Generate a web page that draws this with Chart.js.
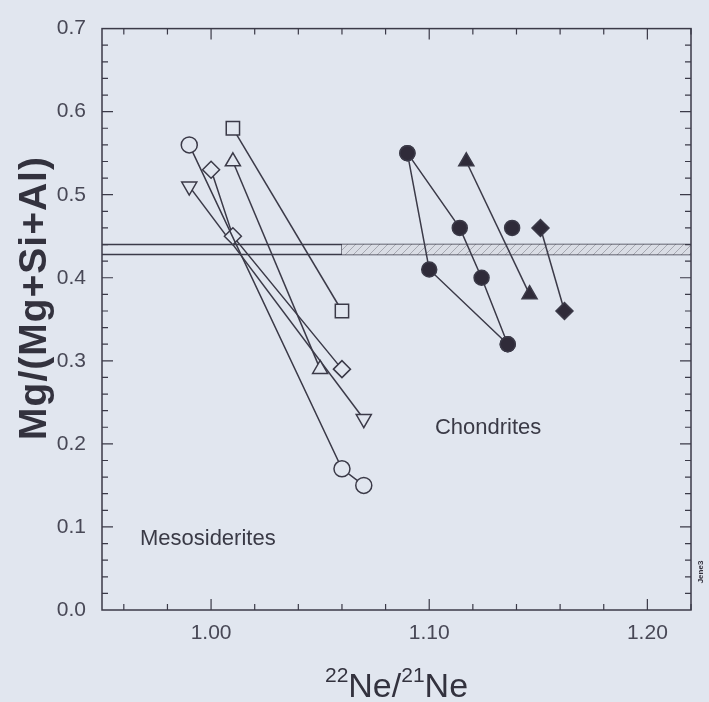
<!DOCTYPE html>
<html>
<head>
<meta charset="utf-8">
<script src="https://cdn.jsdelivr.net/npm/chart.js@4.4.0/dist/chart.umd.min.js"></script>
<style>
  html, body { margin: 0; padding: 0; background: #e1e6ef; }
</style>
</head>
<body>
<canvas id="myChart" width="709" height="702"></canvas>
<script>
// axis ticks
const xTickLabels = [1.00, 1.10, 1.20];
const yTickLabels = [0.0, 0.1, 0.2, 0.3, 0.4, 0.5, 0.6, 0.7];

// Mesosiderites (open symbols), [x = 22Ne/21Ne, y = Mg/(Mg+Si+Al)]
const mesoCircle = [[0.99, 0.56], [1.06, 0.17], [1.07, 0.15]];
const mesoSquare = [[1.01, 0.58], [1.06, 0.36]];
const mesoTriUp = [[1.01, 0.54], [1.05, 0.29]];
const mesoDiamond = [[1.00, 0.53], [1.01, 0.45], [1.06, 0.29]];
const mesoTriDown = [[0.99, 0.51], [1.07, 0.23]];

// Chondrites (filled symbols)
const chonCircleA = [[1.09, 0.55], [1.114, 0.46], [1.124, 0.40], [1.136, 0.32]];
const chonCircleB = [[1.09, 0.55], [1.10, 0.41], [1.136, 0.32]];
const chonCircleC = [[1.138, 0.46]];
const chonTriangle = [[1.117, 0.54], [1.146, 0.38]];
const chonDiamond = [[1.151, 0.46], [1.162, 0.36]];

// horizontal band
const bandLow = 0.428;
const bandHigh = 0.44;
const bandShadeFrom = 1.06;

// region labels
const regionLabels = [
  { text: "Mesosiderites", x: 0.9985, y: 0.085 },
  { text: "Chondrites", x: 1.127, y: 0.219 },
];

const INK = "#3b3a48";
const BG = "#e1e6ef";
const FONT = "'Liberation Sans', Arial, sans-serif";

function pts(arr) {
  return arr.map(function (p) { return { x: p[0], y: p[1] }; });
}

function series(arr, style, filled, radius, rotation) {
  return {
    data: pts(arr),
    showLine: true,
    borderColor: INK,
    borderWidth: 1.5,
    pointStyle: style,
    pointRotation: rotation || 0,
    pointRadius: radius,
    pointBorderWidth: 1.5,
    pointBorderColor: INK,
    pointBackgroundColor: filled ? "#2f2b39" : BG,
  };
}

// light hatch for the shaded part of the band
function hatch() {
  const c = document.createElement("canvas");
  c.width = 8; c.height = 8;
  const g = c.getContext("2d");
  g.fillStyle = "#dadde5";
  g.fillRect(0, 0, 8, 8);
  g.strokeStyle = "#a6a8b1";
  g.lineWidth = 1;
  g.beginPath();
  g.moveTo(0, 8); g.lineTo(8, 0);
  g.stroke();
  return g.createPattern(c, "repeat");
}

const framePlugin = {
  id: "frame",
  afterDatasetsDraw(chart) {
    const ctx = chart.ctx;
    const a = chart.chartArea;
    const xs = chart.scales.x, ys = chart.scales.y;
    ctx.save();
    ctx.strokeStyle = INK;
    ctx.lineWidth = 1.5;
    ctx.strokeRect(a.left, a.top, a.right - a.left, a.bottom - a.top);

    // inward ticks on all four sides, minor every 0.02
    ctx.lineWidth = 1.2;
    ctx.beginPath();
    for (let i = 0; i <= 13; i++) {
      const v = 0.96 + i * 0.02;
      const major = Math.abs(v * 10 - Math.round(v * 10)) < 1e-6;
      const len = major ? 11 : 6;
      const px = xs.getPixelForValue(v);
      ctx.moveTo(px, a.bottom); ctx.lineTo(px, a.bottom - len);
      ctx.moveTo(px, a.top); ctx.lineTo(px, a.top + len);
    }
    for (let i = 1; i < 35; i++) {
      const v = i * 0.02;
      const major = i % 5 === 0;
      const len = major ? 11 : 6;
      const py = ys.getPixelForValue(v);
      ctx.moveTo(a.left, py); ctx.lineTo(a.left + len, py);
      ctx.moveTo(a.right, py); ctx.lineTo(a.right - len, py);
    }
    ctx.stroke();

    // region labels
    ctx.fillStyle = "#3a3a46";
    ctx.font = "22px " + FONT;
    ctx.textAlign = "center";
    ctx.textBaseline = "middle";
    regionLabels.forEach(function (l) {
      ctx.fillText(l.text, xs.getPixelForValue(l.x), ys.getPixelForValue(l.y));
    });

    // y axis title
    ctx.save();
    ctx.translate(35, 298);
    ctx.rotate(-Math.PI / 2);
    ctx.font = "bold 39px " + FONT;
    ctx.letterSpacing = "1px";
    ctx.fillStyle = "#33323e";
    ctx.fillText("Mg/(Mg+Si+Al)", 0, 0);
    ctx.restore();

    // x axis title with mass numbers
    ctx.fillStyle = "#33323e";
    ctx.textBaseline = "alphabetic";
    ctx.textAlign = "left";
    const parts = [["22", true], ["Ne/", false], ["21", true], ["Ne", false]];
    let w = 0;
    parts.forEach(function (p) {
      ctx.font = (p[1] ? "21px " : "34px ") + FONT;
      w += ctx.measureText(p[0]).width;
    });
    let x = (a.left + a.right) / 2 - w / 2;
    parts.forEach(function (p) {
      ctx.font = (p[1] ? "21px " : "34px ") + FONT;
      ctx.fillText(p[0], x, p[1] ? 682 : 697);
      x += ctx.measureText(p[0]).width;
    });

    // small note at the right edge
    ctx.save();
    ctx.translate(701, 572);
    ctx.rotate(-Math.PI / 2);
    ctx.font = "bold 8px " + FONT;
    ctx.textAlign = "center";
    ctx.textBaseline = "middle";
    ctx.fillText("Jene3", 0, 0);
    ctx.restore();

    ctx.restore();
  },
};

document.addEventListener("DOMContentLoaded", function () {
  const ctx = document.getElementById("myChart");
  new Chart(ctx, {
    type: "scatter",
    data: {
      datasets: [
        series(mesoCircle, "circle", false, 8),
        series(mesoSquare, "rect", false, 9.4),
        series(mesoTriUp, "triangle", false, 8.7),
        series(mesoDiamond, "rectRot", false, 8.5),
        series(mesoTriDown, "triangle", false, 8.7, 180),
        series(chonCircleA, "circle", true, 7.5),
        series(chonCircleB, "circle", true, 7.5),
        series(chonCircleC, "circle", true, 7.5),
        series(chonTriangle, "triangle", true, 8.7),
        series(chonDiamond, "rectRot", true, 8.5),
        {
          // shaded part of the band
          data: [{ x: bandShadeFrom, y: bandHigh }, { x: 1.22, y: bandHigh }],
          showLine: true,
          borderWidth: 0,
          pointRadius: 0,
          fill: { value: bandLow },
          backgroundColor: hatch(),
        },
        {
          data: [{ x: bandShadeFrom, y: bandLow }, { x: bandShadeFrom, y: bandHigh }],
          showLine: true, borderColor: INK, borderWidth: 1.2, pointRadius: 0,
        },
        {
          data: [{ x: 0.95, y: bandHigh }, { x: 1.22, y: bandHigh }],
          showLine: true, borderColor: INK, borderWidth: 1.5, pointRadius: 0,
        },
        {
          data: [{ x: 0.95, y: bandLow }, { x: 1.22, y: bandLow }],
          showLine: true, borderColor: INK, borderWidth: 1.5, pointRadius: 0,
        },
      ],
    },
    options: {
      responsive: false,
      animation: false,
      layout: { padding: { top: 24, right: 18, left: 0, bottom: 0 } },
      plugins: {
        legend: { display: false },
        tooltip: { enabled: false },
      },
      scales: {
        x: {
          type: "linear",
          min: 0.95,
          max: 1.22,
          grid: { display: false, drawTicks: false },
          border: { display: false },
          afterBuildTicks: function (scale) {
            scale.ticks = xTickLabels.map(function (v) { return { value: v }; });
          },
          afterFit: function (scale) { scale.height = 92; },
          ticks: {
            padding: 11,
            color: "#484856",
            font: { family: FONT, size: 21 },
            callback: function (value) { return value.toFixed(2); },
          },
        },
        y: {
          type: "linear",
          min: 0,
          max: 0.7,
          grid: { display: false, drawTicks: false },
          border: { display: false },
          afterBuildTicks: function (scale) {
            scale.ticks = yTickLabels.map(function (v) { return { value: v }; });
          },
          afterFit: function (scale) { scale.width = 102; },
          ticks: {
            padding: 16,
            color: "#484856",
            font: { family: FONT, size: 21 },
            callback: function (value) { return value.toFixed(1); },
          },
        },
      },
    },
    plugins: [framePlugin],
  });
});
</script>
</body>
</html>
